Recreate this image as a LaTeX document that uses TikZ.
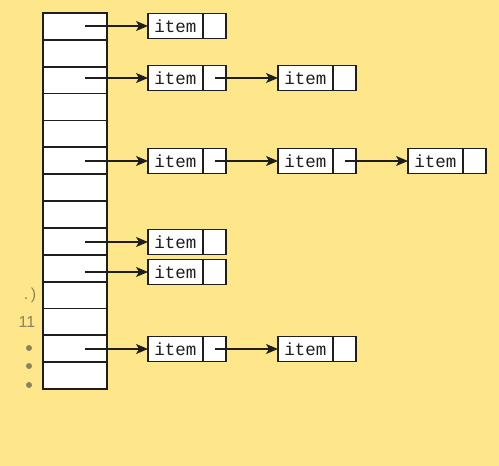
\documentclass[tikz,border=0pt]{standalone}
\usepackage{fontspec}
\newfontfamily\monofont{Liberation Mono}
\newfontfamily\marksfont{Liberation Sans}
\usetikzlibrary{arrows.meta}
\definecolor{bgyellow}{RGB}{253,231,138}
\definecolor{faint}{RGB}{140,130,95}
\definecolor{ink}{RGB}{30,30,30}
\tikzset{
  cell/.style={draw=ink, line width=1.8pt, fill=white, minimum width=64pt, minimum height=26.86pt, inner sep=0pt, outer sep=0pt},
  itembox/.style={draw=ink, line width=1.8pt, fill=white, minimum width=55pt, minimum height=25pt, inner sep=0pt, outer sep=0pt, font=\monofont\fontsize{17.5}{17.5}\selectfont, text=ink},
  ptrbox/.style={draw=ink, line width=1.8pt, fill=white, minimum width=23pt, minimum height=25pt, inner sep=0pt, outer sep=0pt, anchor=west},
  arr/.style={draw=ink, line width=1.1pt, -{Stealth[length=12pt,width=10pt,inset=3pt]}},
  faintlabel/.style={text=faint, font=\marksfont\fontsize{16}{16}\selectfont}
}
\begin{document}
\begin{tikzpicture}[x=1pt,y=-1pt]
\fill[bgyellow] (0,0) rectangle (499,466);
\useasboundingbox (0,0) rectangle (499,466);
% table
\foreach \i in {0,...,13}{
  \node[cell] (r\i) at (75,{13+26.86*(\i+0.5)}) {};
}
% faint marks at left
\node[faintlabel] (m1) at (30,295) {.\,)};
\node[faintlabel] (m2) at (27,322) {11};
\fill[faint] (29,348) circle (3);
\fill[faint] (29,366) circle (3);
\fill[faint] (29,385) circle (3);
% item boxes: name, x-left, y-center
\foreach \n/\x/\y in {a1/148/26, b1/148/78, b2/278/78, c1/148/161, c2/278/161, c3/408/161, d1/148/242, e1/148/272, f1/148/349, f2/278/349}{
  \node[itembox, anchor=west] (\n) at (\x,\y) {item};
  \node[ptrbox] (\n p) at (\n.east) {};
}
% arrow start points inside table cells
\coordinate (sa) at (85,26);
\coordinate (sb) at (85,78);
\coordinate (sc) at (85,161);
\coordinate (sd) at (85,242);
\coordinate (se) at (85,272);
\coordinate (sf) at (85,349);
\draw[arr] (sa) -- (a1.west);
\draw[arr] (sb) -- (b1.west);
\draw[arr] (sc) -- (c1.west);
\draw[arr] (sd) -- (d1.west);
\draw[arr] (se) -- (e1.west);
\draw[arr] (sf) -- (f1.west);
% chain arrows
\draw[arr] (b1p.center) -- (b2.west);
\draw[arr] (c1p.center) -- (c2.west);
\draw[arr] (c2p.center) -- (c3.west);
\draw[arr] (f1p.center) -- (f2.west);
\end{tikzpicture}
\end{document}
